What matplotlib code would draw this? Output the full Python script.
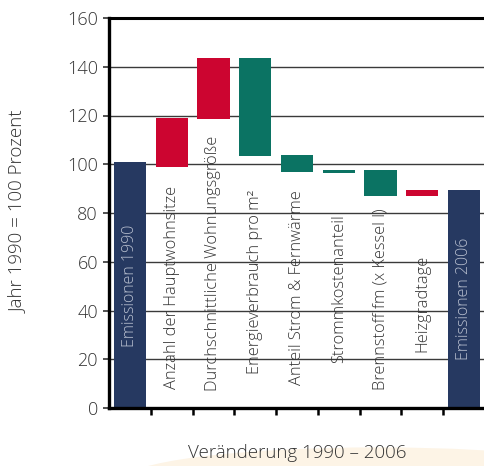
import matplotlib
matplotlib.use("Agg")
import matplotlib.pyplot as plt
from matplotlib.patches import Ellipse

plt.rcParams['font.family'] = ['Open Sans', 'DejaVu Sans']

categories = ["Emissionen 1990", "Anzahl der Hauptwohnsitze",
              "Durchschnittliche Wohnungsgröße", "Energieverbrauch pro m²",
              "Anteil Strom & Fernwärme", "Strommkostenanteil",
              "Brennstoff fm (x Kessel I)", "Heizgradtage", "Emissionen 2006"]
bar_low = [0, 99, 118.5, 103.5, 97, 96.5, 87, 87, 0]
bar_high = [100.8, 119, 143.5, 143.5, 104, 97.5, 97.5, 89.4, 89.4]
bar_kind = ["total", "up", "up", "down", "down", "down", "down", "up", "total"]
yticks = [0, 20, 40, 60, 80, 100, 120, 140, 160]

colors = {"total": "#263961", "up": "#cc0530", "down": "#0b7363"}
label_y = [50, 7.8, 7, 14, 9.5, 18.5, 7.4, 23, 45]

fig = plt.figure(figsize=(4.85, 4.66), dpi=100)
fig.patches.append(Ellipse((0.78, -0.03), 1.05, 0.14, transform=fig.transFigure,
                           facecolor="#fdf4e6", edgecolor="none", zorder=0))
ax = fig.add_axes([109/485, 1-408/466, 376/485, 390/466])
ax.set_facecolor("none")

x = list(range(len(categories)))
for i in x:
    ax.bar(i, bar_high[i]-bar_low[i], bottom=bar_low[i], width=0.77,
           color=colors[bar_kind[i]], zorder=3)
    if bar_kind[i] == "total":
        ax.text(i, label_y[i], categories[i], rotation=90, ha="center", va="center",
                color="#b9c0d0", fontsize=11.5, fontweight="light", zorder=4)
    else:
        ax.text(i, label_y[i], categories[i], rotation=90, ha="center", va="bottom",
                color="#333333", fontsize=11.8, fontweight="light", zorder=4)

ax.set_xlim(-0.5, 8.5)
ax.set_ylim(0, 160)
ax.set_yticks(yticks)
ax.set_yticklabels([str(v) for v in yticks], fontsize=13, color="#333333",
                   fontweight="light")
for v in yticks[1:-1]:
    ax.axhline(v, color="#3a3a3a", lw=1.0, zorder=1)
ax.axhline(160, color="black", lw=2.2, zorder=1, clip_on=False)
ax.set_xticks([i - 0.5 for i in range(1, 9)])
ax.set_xticklabels([])
ax.tick_params(axis="x", length=5, width=1.8, color="black", direction="out")
ax.tick_params(axis="y", length=4, width=1.2, color="#333333", direction="out", pad=4)
for s in ["top", "right"]:
    ax.spines[s].set_visible(False)
ax.spines["left"].set_linewidth(2.4)
ax.spines["bottom"].set_linewidth(2.4)
ax.spines["left"].set_zorder(5)
ax.spines["bottom"].set_zorder(5)

fig.text(18/485, 1-212/466, "Jahr 1990 = 100 Prozent", rotation=90, ha="center",
         va="center", fontsize=13.5, color="#333333", fontweight="light")
fig.text(297/485, 1-453/466, "Veränderung 1990 – 2006", ha="center", va="center",
         fontsize=13.5, color="#333333", fontweight="light")

fig.savefig("out.png", dpi=100)
